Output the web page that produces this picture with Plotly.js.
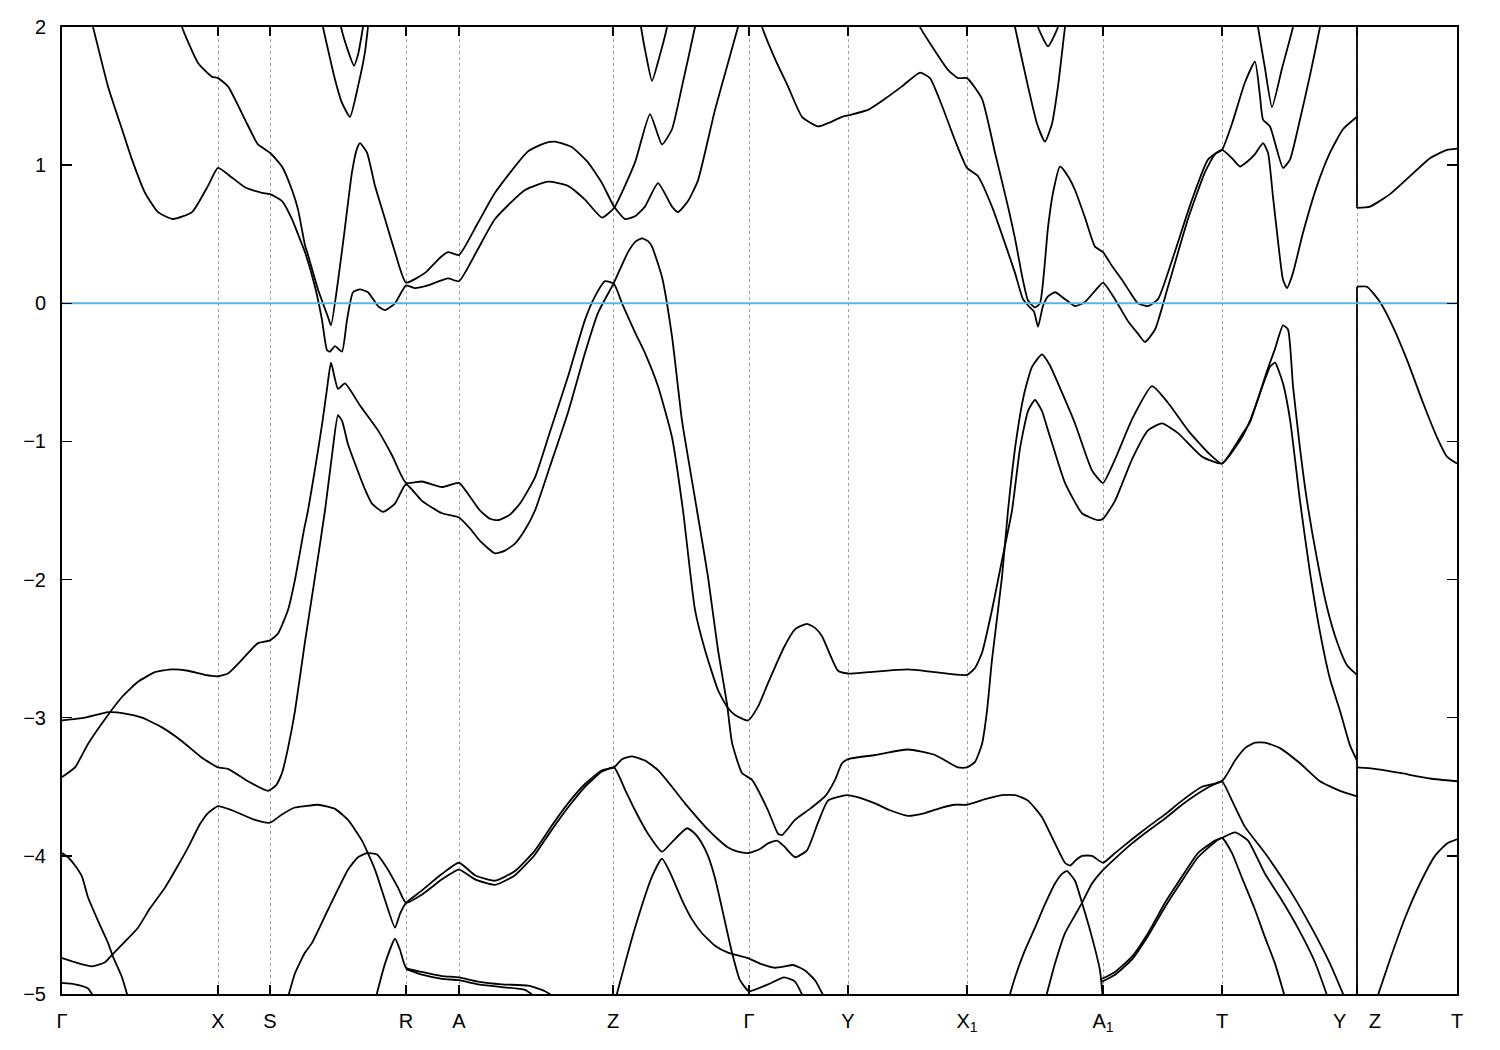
<!DOCTYPE html>
<html><head><meta charset="utf-8">
<script src="https://cdn.plot.ly/plotly-3.0.1.min.js"></script>
<style>html,body{margin:0;padding:0;background:#fff}</style>
</head><body><div id="chart" style="width:1500px;height:1050px"></div>
<script>
// high-symmetry points along the k-path (path distance units)
const tickPos = [0,156,208,344,397,551,687,786,905,1041,1160,1295,1395];
const tickText = ['Γ','X','S','R','A','Z','Γ','Y','X<sub>1</sub>','A<sub>1</sub>','T','Y\u00a0\u00a0\u00a0\u00a0Z','T'];
const yTicks = [-5,-4,-3,-2,-1,0,1,2];
const fermiLevel = 0;
// energies of the vertical jump drawn at the Y|Z discontinuity
const jumpLow = [-5.05, 0.12];
const jumpHigh = [0.69, 2.05];

// bands: [k, E(eV)]
const bandT1 = [[29,2.05],[31,2.0],[46,1.57],[60,1.26],[70,1.04],[83,0.80],[96,0.66],[111,0.61],[130,0.66],[146,0.85],[156,0.98],[170,0.91],[183,0.84],[200,0.80],[208,0.79],[220,0.74],[230,0.61],[236,0.50],[243,0.37],[253,0.12],[260,-0.12],[265,-0.34],[268,-0.35],[273,-0.31],[280,-0.35],[285,-0.12],[291,0.08],[298,0.10],[306,0.08],[316,-0.02],[323,-0.05],[333,0.0],[344,0.13],[353,0.11],[366,0.13],[386,0.18],[397,0.16],[415,0.38],[433,0.61],[463,0.82],[486,0.88],[506,0.85],[523,0.75],[540,0.62],[552,0.69],[573,1.02],[588,1.37],[600,1.15],[610,1.26],[620,1.57],[633,2.0],[634,2.05]];
const bandT2 = [[119,2.05],[120,2.0],[136,1.74],[150,1.64],[156,1.63],[166,1.57],[183,1.33],[196,1.15],[208,1.09],[220,0.99],[230,0.82],[236,0.68],[243,0.42],[246,0.35],[256,0.10],[266,-0.10],[269,-0.16],[276,0.16],[283,0.55],[290,0.95],[295,1.12],[298,1.16],[305,1.09],[313,0.85],[323,0.61],[333,0.37],[344,0.15],[363,0.22],[378,0.33],[386,0.37],[397,0.35],[415,0.57],[433,0.80],[466,1.10],[483,1.16],[493,1.17],[510,1.13],[526,1.02],[540,0.87],[552,0.70],[563,0.61],[573,0.63],[583,0.70],[596,0.87],[610,0.70],[616,0.66],[626,0.74],[636,0.89],[653,1.40],[666,1.74],[676,2.0],[678,2.05]];
const bandT3 = [[260,2.05],[261,2.0],[273,1.62],[280,1.45],[288,1.35],[296,1.57],[303,1.82],[306,2.0],[307,2.05]];
const bandT4 = [[278,2.05],[279,2.0],[285,1.85],[292,1.72],[296,1.80],[301,2.0],[302,2.05]];
const bandT5 = [[578,2.05],[579,2.0],[584,1.8],[590,1.61],[598,1.8],[605,2.0],[606,2.05]];
const bandT6 = [[698,2.05],[700,2.0],[713,1.77],[726,1.57],[740,1.35],[756,1.28],[768,1.31],[780,1.35],[786,1.36],[806,1.40],[823,1.48],[840,1.57],[858,1.67],[868,1.63],[880,1.43],[893,1.18],[905,0.98],[916,0.92],[930,0.70],[946,0.37],[953,0.22],[961,0.03],[968,-0.03],[972,-0.06],[976,-0.17],[981,-0.02],[986,0.05],[993,0.08],[1003,0.03],[1013,-0.02],[1023,0.01],[1033,0.09],[1041,0.15],[1053,0.03],[1066,-0.13],[1076,-0.22],[1083,-0.28],[1093,-0.19],[1106,0.12],[1126,0.61],[1143,0.95],[1153,1.08],[1160,1.11],[1170,1.30],[1183,1.60],[1193,1.75],[1198,1.50],[1201,1.33],[1208,1.28],[1221,0.98],[1228,1.04],[1238,1.33],[1248,1.65],[1258,2.0],[1259,2.05]];
const bandT7 = [[857,2.05],[858,2.0],[870,1.86],[886,1.69],[896,1.63],[905,1.63],[920,1.48],[933,1.09],[946,0.70],[953,0.47],[960,0.20],[966,0.02],[973,-0.03],[978,0.0],[986,0.55],[991,0.80],[998,0.99],[1006,0.92],[1013,0.82],[1023,0.62],[1033,0.41],[1041,0.37],[1050,0.27],[1060,0.17],[1068,0.08],[1076,0.0],[1086,-0.02],[1096,0.03],[1110,0.31],[1130,0.75],[1146,1.04],[1160,1.11],[1170,1.05],[1178,0.99],[1186,1.03],[1193,1.08],[1201,1.16],[1206,1.09],[1211,0.77],[1216,0.45],[1221,0.17],[1225,0.11],[1231,0.22],[1241,0.51],[1255,0.85],[1268,1.09],[1281,1.26],[1295,1.35]];
const bandT8 = [[952,2.05],[953,2.0],[966,1.57],[975,1.30],[983,1.17],[990,1.30],[996,1.57],[1003,2.0],[1004,2.05]];
const bandT9 = [[975,2.05],[976,2.0],[986,1.86],[996,2.0],[997,2.05]];
const bandT10 = [[1195,2.05],[1196,2.0],[1203,1.70],[1210,1.42],[1220,1.70],[1231,2.0],[1232,2.05]];
const bandT11 = [[1295,0.69],[1308,0.70],[1328,0.79],[1348,0.92],[1368,1.05],[1385,1.11],[1395,1.12]];
const bandT12 = [[1295,0.12],[1305,0.12],[1318,0.01],[1331,-0.17],[1345,-0.41],[1361,-0.72],[1375,-0.97],[1385,-1.11],[1395,-1.16]];

const bandV1 = [[0,-3.43],[13,-3.36],[26,-3.19],[46,-2.98],[60,-2.85],[76,-2.74],[93,-2.67],[110,-2.65],[126,-2.66],[143,-2.69],[156,-2.70],[166,-2.68],[180,-2.58],[196,-2.46],[208,-2.44],[216,-2.39],[226,-2.22],[233,-2.0],[242,-1.64],[246,-1.50],[253,-1.20],[260,-0.88],[265,-0.62],[269,-0.43],[276,-0.62],[283,-0.58],[298,-0.74],[316,-0.92],[330,-1.10],[344,-1.30],[360,-1.29],[380,-1.33],[397,-1.30],[408,-1.40],[418,-1.50],[428,-1.56],[436,-1.57],[448,-1.53],[458,-1.45],[473,-1.26],[488,-0.93],[506,-0.53],[523,-0.12],[533,0.05],[543,0.16],[552,0.14],[560,0.0],[573,-0.21],[583,-0.36],[596,-0.60],[610,-0.97],[621,-1.50],[633,-2.22],[643,-2.51],[656,-2.80],[665,-2.92],[673,-2.98],[686,-3.02],[696,-2.92],[706,-2.75],[722,-2.49],[733,-2.36],[745,-2.32],[753,-2.35],[760,-2.41],[776,-2.66],[786,-2.68],[806,-2.67],[846,-2.65],[873,-2.67],[905,-2.69],[913,-2.64],[920,-2.53],[930,-2.22],[940,-1.86],[950,-1.50],[958,-1.05],[966,-0.78],[973,-0.70],[980,-0.78],[986,-0.92],[996,-1.15],[1003,-1.30],[1020,-1.52],[1036,-1.57],[1041,-1.56],[1053,-1.43],[1070,-1.13],[1086,-0.92],[1100,-0.87],[1116,-0.94],[1140,-1.11],[1160,-1.16],[1180,-0.97],[1188,-0.85],[1203,-0.55],[1208,-0.46],[1213,-0.43],[1221,-0.58],[1228,-0.84],[1238,-1.43],[1248,-1.95],[1258,-2.38],[1268,-2.72],[1278,-2.95],[1288,-3.2],[1295,-3.31]];
const bandV2 = [[0,-3.02],[23,-3.0],[46,-2.96],[63,-2.97],[80,-3.0],[100,-3.07],[120,-3.17],[140,-3.29],[156,-3.36],[166,-3.37],[186,-3.46],[206,-3.53],[214,-3.49],[220,-3.40],[226,-3.22],[233,-2.95],[243,-2.45],[253,-1.98],[263,-1.50],[270,-1.10],[276,-0.81],[280,-0.85],[286,-1.02],[293,-1.16],[302,-1.33],[310,-1.45],[321,-1.51],[333,-1.45],[344,-1.31],[360,-1.43],[380,-1.52],[397,-1.55],[408,-1.63],[418,-1.72],[433,-1.81],[443,-1.79],[453,-1.74],[463,-1.64],[473,-1.50],[488,-1.18],[506,-0.79],[523,-0.36],[536,-0.07],[552,0.15],[566,0.37],[574,0.45],[580,0.47],[586,0.45],[590,0.41],[600,0.19],[610,-0.24],[620,-0.85],[628,-1.20],[635,-1.50],[646,-1.98],[656,-2.51],[665,-2.90],[670,-3.18],[680,-3.40],[690,-3.45],[706,-3.67],[716,-3.84],[720,-3.85],[733,-3.74],[748,-3.66],[763,-3.57],[773,-3.45],[780,-3.33],[786,-3.30],[813,-3.27],[846,-3.23],[873,-3.27],[896,-3.36],[905,-3.36],[913,-3.32],[920,-3.19],[925,-2.95],[930,-2.58],[940,-1.98],[946,-1.50],[954,-1.0],[962,-0.66],[970,-0.46],[980,-0.37],[988,-0.45],[996,-0.58],[1013,-0.87],[1030,-1.21],[1041,-1.30],[1053,-1.13],[1070,-0.84],[1090,-0.60],[1106,-0.72],[1126,-0.92],[1146,-1.08],[1160,-1.16],[1180,-0.95],[1188,-0.86],[1205,-0.49],[1213,-0.33],[1221,-0.16],[1226,-0.19],[1231,-0.60],[1238,-1.05],[1245,-1.43],[1255,-1.85],[1265,-2.2],[1275,-2.45],[1285,-2.62],[1295,-2.69]];
const bandV3 = [[0,-4.74],[13,-4.77],[30,-4.80],[43,-4.77],[51,-4.71],[63,-4.62],[76,-4.52],[88,-4.38],[103,-4.23],[116,-4.07],[126,-3.94],[138,-3.77],[146,-3.69],[156,-3.64],[170,-3.67],[193,-3.74],[208,-3.76],[220,-3.70],[233,-3.65],[243,-3.64],[256,-3.63],[273,-3.66],[286,-3.74],[300,-3.89],[313,-4.10],[323,-4.32],[333,-4.52],[338,-4.42],[344,-4.34],[360,-4.25],[380,-4.13],[397,-4.05],[413,-4.14],[433,-4.18],[453,-4.11],[473,-3.96],[488,-3.80],[506,-3.62],[523,-3.48],[540,-3.38],[552,-3.36],[560,-3.30],[570,-3.28],[583,-3.31],[596,-3.38],[610,-3.50],[623,-3.62],[636,-3.73],[646,-3.81],[656,-3.88],[666,-3.94],[676,-3.97],[686,-3.98],[698,-3.95],[706,-3.91],[715,-3.89],[722,-3.93],[733,-4.01],[745,-3.96],[756,-3.76],[766,-3.60],[785,-3.56],[798,-3.58],[813,-3.62],[828,-3.67],[846,-3.71],[863,-3.69],[880,-3.65],[893,-3.63],[905,-3.63],[923,-3.59],[940,-3.56],[953,-3.56],[966,-3.60],[980,-3.72],[993,-3.91],[1003,-4.05],[1008,-4.07],[1014,-4.03],[1020,-4.00],[1030,-4.00],[1041,-4.05],[1053,-3.98],[1070,-3.88],[1086,-3.79],[1103,-3.70],[1120,-3.60],[1140,-3.50],[1160,-3.46],[1173,-3.31],[1183,-3.22],[1193,-3.18],[1203,-3.18],[1218,-3.22],[1238,-3.33],[1258,-3.46],[1278,-3.53],[1295,-3.57]];
const bandV4 = [[225,-5.05],[233,-4.85],[243,-4.70],[250,-4.63],[266,-4.39],[286,-4.10],[296,-4.01],[305,-3.98],[315,-3.99],[326,-4.10],[336,-4.23],[344,-4.34],[360,-4.28],[380,-4.17],[397,-4.10],[413,-4.17],[433,-4.21],[453,-4.14],[473,-3.99],[488,-3.83],[506,-3.65],[523,-3.50],[540,-3.39],[552,-3.36],[563,-3.52],[573,-3.67],[586,-3.84],[600,-3.97],[610,-3.90],[625,-3.80],[633,-3.84],[640,-3.91],[646,-4.0],[653,-4.16],[660,-4.38],[670,-4.70],[678,-4.90],[687,-4.98],[706,-4.93],[722,-4.88],[733,-4.91],[743,-5.05]];
const bandV5 = [[0,-3.98],[6,-4.01],[13,-4.07],[20,-4.15],[26,-4.30],[36,-4.47],[46,-4.63],[51,-4.73],[60,-4.88],[67,-5.05]];
const bandV6 = [[313,-5.05],[323,-4.78],[333,-4.60],[338,-4.68],[344,-4.81],[360,-4.84],[380,-4.87],[397,-4.88],[416,-4.91],[440,-4.93],[466,-4.94],[483,-4.98],[498,-5.05]];
const bandV6b = [[344,-4.82],[360,-4.86],[380,-4.89],[397,-4.90],[416,-4.93],[440,-4.95],[463,-4.97],[478,-5.05]];
const bandV7 = [[553,-5.05],[563,-4.78],[573,-4.52],[590,-4.15],[600,-4.02],[608,-4.12],[620,-4.32],[630,-4.46],[640,-4.56],[653,-4.65],[666,-4.70],[686,-4.74],[698,-4.78],[713,-4.81],[723,-4.80],[731,-4.79],[738,-4.81],[743,-4.83],[753,-4.90],[764,-5.05]];
const bandV8 = [[0,-4.92],[13,-4.93],[26,-4.96],[34,-5.05]];
const bandV9 = [[946,-5.05],[953,-4.88],[962,-4.70],[973,-4.52],[983,-4.35],[993,-4.20],[1000,-4.13],[1005,-4.11],[1013,-4.18],[1020,-4.34],[1030,-4.59],[1038,-4.83],[1041,-5.05]];
const bandV10 = [[983,-5.05],[993,-4.78],[1003,-4.56],[1013,-4.43],[1020,-4.34],[1030,-4.20],[1040,-4.11],[1053,-4.02],[1070,-3.91],[1086,-3.82],[1103,-3.73],[1120,-3.63],[1140,-3.53],[1153,-3.48],[1160,-3.46],[1170,-3.60],[1183,-3.79],[1203,-3.98],[1228,-4.25],[1248,-4.50],[1268,-4.78],[1284,-5.05]];
const bandV11 = [[1040,-4.89],[1053,-4.84],[1070,-4.73],[1086,-4.56],[1103,-4.34],[1120,-4.15],[1136,-3.98],[1153,-3.89],[1160,-3.87],[1173,-3.83],[1186,-3.89],[1203,-4.13],[1218,-4.30],[1238,-4.55],[1253,-4.77],[1267,-5.05]];
const bandV12 = [[1040,-4.91],[1053,-4.86],[1070,-4.75],[1086,-4.58],[1103,-4.37],[1120,-4.18],[1136,-4.01],[1153,-3.90],[1160,-3.87],[1170,-3.98],[1180,-4.16],[1193,-4.39],[1203,-4.59],[1213,-4.78],[1224,-5.05]];
const bandV13 = [[1295,-3.36],[1313,-3.37],[1338,-3.40],[1368,-3.44],[1395,-3.46]];
const bandV14 = [[1314,-5.05],[1328,-4.75],[1343,-4.45],[1358,-4.20],[1373,-4.00],[1385,-3.91],[1395,-3.88]];

const bands = [bandT1,bandT2,bandT3,bandT4,bandT5,bandT6,bandT7,bandT8,bandT9,bandT10,bandT11,bandT12,
  bandV1,bandV2,bandV3,bandV4,bandV5,bandV6,bandV6b,bandV7,bandV8,bandV9,bandV10,bandV11,bandV12,bandV13,bandV14];

const traces = bands.map(b => ({
  type:'scatter', mode:'lines',
  x: b.map(p=>p[0]), y: b.map(p=>p[1]),
  line:{color:'#000000', width:1.8, shape:'spline', smoothing:0.5},
  hoverinfo:'skip', showlegend:false
}));

const kJump = tickPos[11];
traces.push({type:'scatter', mode:'lines',
  x:[kJump,kJump,null,kJump,kJump], y:[jumpLow[0],jumpLow[1],null,jumpHigh[0],jumpHigh[1]],
  line:{color:'#000000', width:1.8}, hoverinfo:'skip', showlegend:false});

traces.push({type:'scatter', mode:'lines',
  x:[tickPos[0], tickPos[tickPos.length-1]], y:[fermiLevel, fermiLevel],
  line:{color:'#56b4e9', width:2}, hoverinfo:'skip', showlegend:false});

const font = {family:'Liberation Sans, Arial, sans-serif', size:20, color:'#000'};
const layout = {
  width:1500, height:1050,
  margin:{l:62, r:43, t:27, b:56, pad:0},
  paper_bgcolor:'#fff', plot_bgcolor:'#fff',
  showlegend:false,
  font: font,
  xaxis:{
    range:[tickPos[0], tickPos[tickPos.length-1]],
    tickmode:'array', tickvals:tickPos, ticktext:tickText,
    ticks:'inside', ticklen:9, tickwidth:1.5, tickcolor:'#000',
    showline:true, linecolor:'#000', linewidth:2, mirror:'ticks',
    showgrid:true, gridcolor:'#a0a0a0', gridwidth:1, griddash:'dot',
    zeroline:false, tickfont:font, ticklabelstandoff:8
  },
  yaxis:{
    range:[-5,2], tickmode:'array', tickvals:yTicks,
    ticks:'inside', ticklen:10, tickwidth:1.5, tickcolor:'#000',
    showline:true, linecolor:'#000', linewidth:2, mirror:'ticks',
    showgrid:false, zeroline:false, tickfont:font, ticklabelstandoff:10
  }
};
Plotly.newPlot('chart', traces, layout, {staticPlot:true, displayModeBar:false});
</script>
</body></html>
